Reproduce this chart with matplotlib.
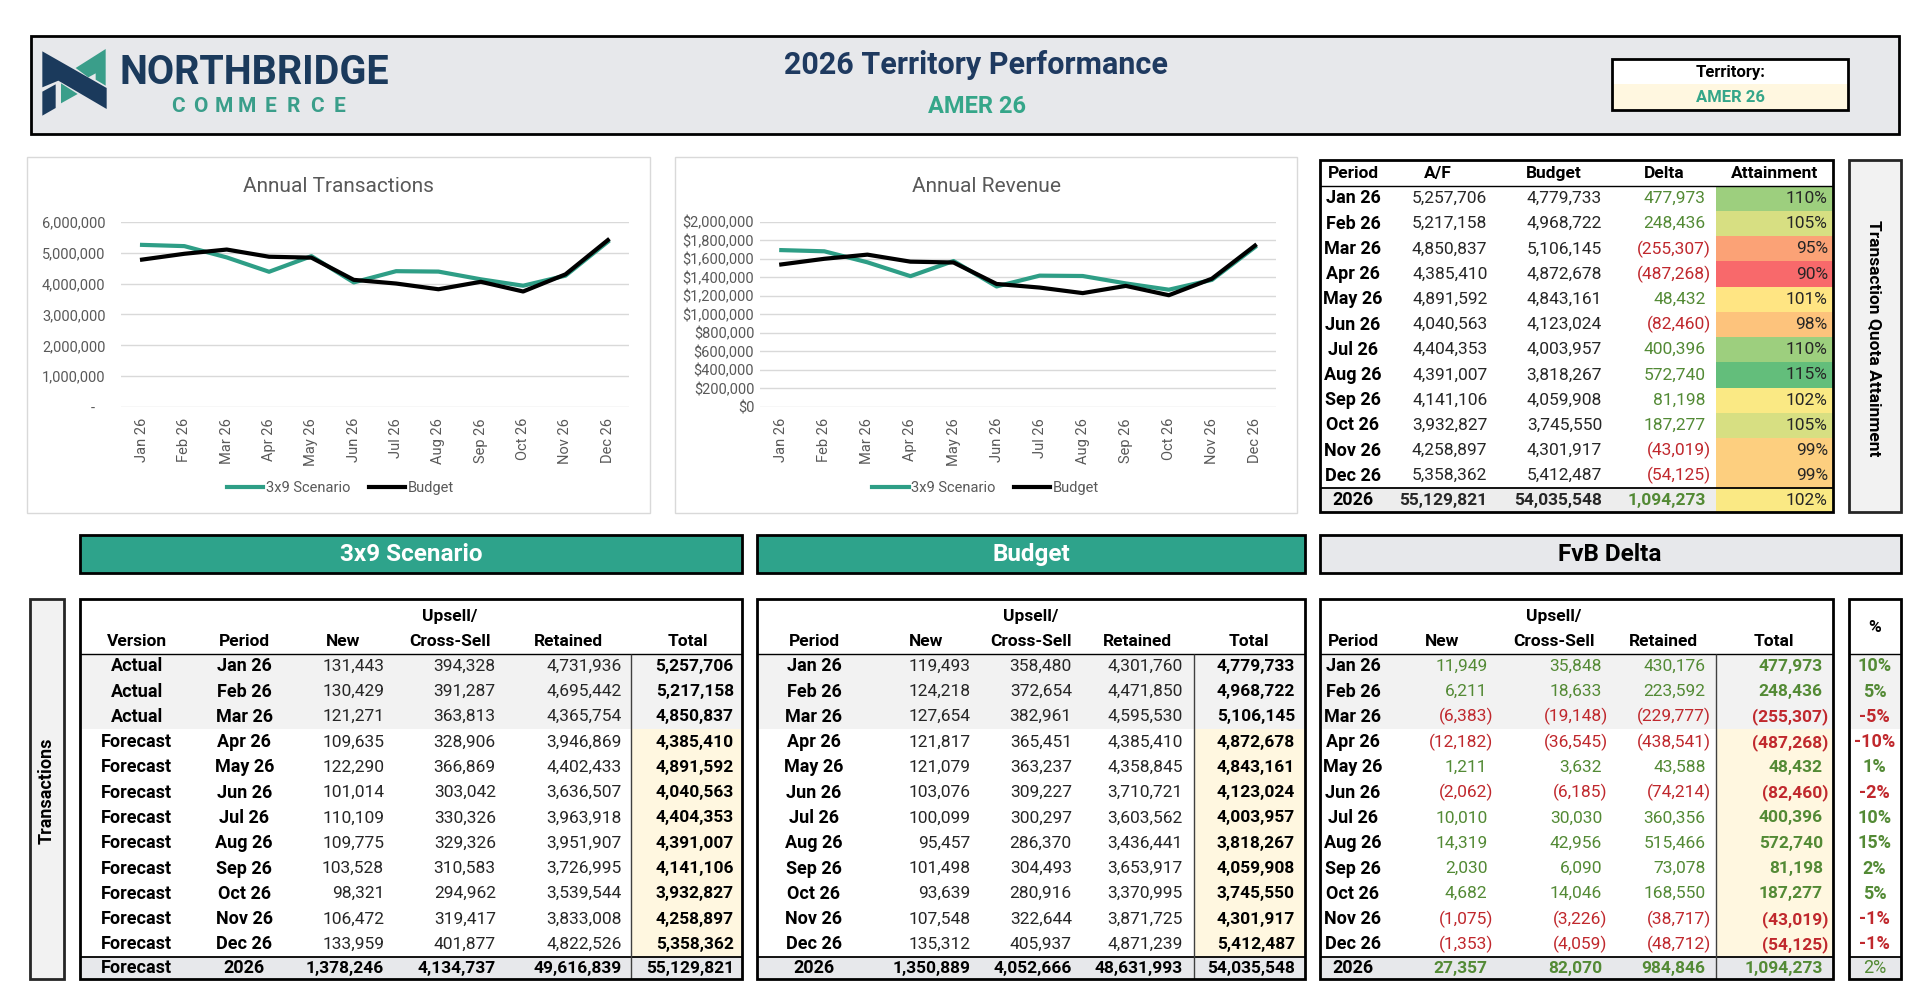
import matplotlib
matplotlib.use("Agg")
import matplotlib.pyplot as plt
import numpy as np
from matplotlib.patches import Rectangle, Polygon
from matplotlib.colors import LinearSegmentedColormap
from matplotlib import font_manager

# ---- data ----
months = ["Jan 26", "Feb 26", "Mar 26", "Apr 26", "May 26", "Jun 26",
          "Jul 26", "Aug 26", "Sep 26", "Oct 26", "Nov 26", "Dec 26"]
versions = ["Actual", "Actual", "Actual"] + ["Forecast"] * 9

scen_new = [131443, 130429, 121271, 109635, 122290, 101014, 110109, 109775, 103528, 98321, 106472, 133959]
scen_upsell = [394328, 391287, 363813, 328906, 366869, 303042, 330326, 329326, 310583, 294962, 319417, 401877]
scen_retained = [4731936, 4695442, 4365754, 3946869, 4402433, 3636507, 3963918, 3951907, 3726995, 3539544, 3833008, 4822526]
scen_total = [5257706, 5217158, 4850837, 4385410, 4891592, 4040563, 4404353, 4391007, 4141106, 3932827, 4258897, 5358362]
scen_year = [1378246, 4134737, 49616839, 55129821]

bud_new = [119493, 124218, 127654, 121817, 121079, 103076, 100099, 95457, 101498, 93639, 107548, 135312]
bud_upsell = [358480, 372654, 382961, 365451, 363237, 309227, 300297, 286370, 304493, 280916, 322644, 405937]
bud_retained = [4301760, 4471850, 4595530, 4385410, 4358845, 3710721, 3603562, 3436441, 3653917, 3370995, 3871725, 4871239]
bud_total = [4779733, 4968722, 5106145, 4872678, 4843161, 4123024, 4003957, 3818267, 4059908, 3745550, 4301917, 5412487]
bud_year = [1350889, 4052666, 48631993, 54035548]

fvb_new = [11949, 6211, -6383, -12182, 1211, -2062, 10010, 14319, 2030, 4682, -1075, -1353]
fvb_upsell = [35848, 18633, -19148, -36545, 3632, -6185, 30030, 42956, 6090, 14046, -3226, -4059]
fvb_retained = [430176, 223592, -229777, -438541, 43588, -74214, 360356, 515466, 73078, 168550, -38717, -48712]
fvb_total = [477973, 248436, -255307, -487268, 48432, -82460, 400396, 572740, 81198, 187277, -43019, -54125]
fvb_year = [27357, 82070, 984846, 1094273]
fvb_pct = [10, 5, -5, -10, 1, -2, 10, 15, 2, 5, -1, -1]
fvb_pct_year = 2

attainment = [110, 105, 95, 90, 101, 98, 110, 115, 102, 105, 99, 99]
attainment_year = 102

rev_scenario = [1696000, 1683000, 1564000, 1414000, 1578000, 1303000, 1420000, 1416000, 1336000, 1268000, 1374000, 1728000]
rev_budget = [1541000, 1602000, 1647000, 1571000, 1562000, 1330000, 1291000, 1231000, 1309000, 1208000, 1387000, 1745000]

# ---- style ----
available = {f.name for f in font_manager.fontManager.ttflist}
FONT = next(f for f in ["Roboto", "Liberation Sans", "DejaVu Sans"] if f in available)
plt.rcParams["font.family"] = FONT

NAVY = "#1F3A60"
TEAL = "#2EA38B"
TEAL_TXT = "#35A689"
LINE_TEAL = "#2E9E86"
GRAY = "#E7E8EB"
LIGHT = "#F2F2F2"
CREAM = "#FFF7E0"
GREEN = "#538A35"
RED = "#C0282D"
INK = "#262626"
CHART_TXT = "#595959"

W, H = 1560, 806  # layout units (figure is 1924 x 994 px)
fig = plt.figure(figsize=(19.24, 9.94), dpi=100)
ax0 = fig.add_axes([0, 0, 1, 1])
ax0.set_xlim(0, W)
ax0.set_ylim(H, 0)
ax0.axis("off")


def box(x0, y0, x1, y1, fc="none", ec="none", lw=0, z=1):
    ax0.add_patch(Rectangle((x0, y0), x1 - x0, y1 - y0, facecolor=fc,
                            edgecolor=ec, linewidth=lw, zorder=z))


def hline(x0, x1, y, lw=1, color="black"):
    ax0.plot([x0, x1], [y, y], color=color, lw=lw, zorder=3, solid_capstyle="butt")


def vline(x, y0, y1, lw=1, color="#404040"):
    ax0.plot([x, x], [y0, y1], color=color, lw=lw, zorder=3, solid_capstyle="butt")


def txt(x, y, s, ha="center", size=12.5, weight="normal", color=INK, **kw):
    ax0.text(x, y, s, ha=ha, va="center", fontsize=size, fontweight=weight,
             color=color, zorder=4, **kw)


def num(xr, y, v, signed=False, weight="normal", size=12.5, color=INK):
    if signed:
        color = GREEN if v >= 0 else RED
    if v < 0:
        txt(xr + 4.5, y, f"({-v:,})", ha="right", size=size, weight=weight, color=color)
    else:
        txt(xr, y, f"{v:,}", ha="right", size=size, weight=weight, color=color)


LBL = 13    # bold row labels
HDR = 12.5  # bold column headers

# ---- header band ----
box(25, 29, 1540, 109, fc=GRAY, ec="black", lw=2)

# logo mark (shape coords in a 240-unit square)
def logo_poly(pts, color):
    p = np.array(pts, dtype=float)
    xs = (35 + p[:, 0] / 3) / 1.2333
    ys = (44 + p[:, 1] / 3) / 1.2333
    ax0.add_patch(Polygon(np.column_stack([xs, ys]), closed=True, fc=color, ec="none", zorder=3))

logo_poly([(122, 72), (212, 15), (212, 125), (182, 107), (182, 88), (160, 100)], "#3A9E8A")
logo_poly([(78, 118), (128, 150), (78, 178)], "#3A9E8A")
logo_poly([(22, 22), (215, 132), (215, 195), (70, 110), (22, 130)], "#1B3A5C")
logo_poly([(22, 143), (62, 121), (62, 192), (22, 215)], "#1B3A5C")

txt(97, 59, "NORTHBRIDGE", ha="left", size=28.5, weight="bold", color="#1B3A5C")
for i, ch in enumerate("COMMERCE"):
    txt(144 + i * 18.8, 86, ch, size=15, weight="bold", color="#3A9E8A")

txt(791, 53, "2026 Territory Performance", size=22, weight="bold", color=NAVY)
txt(792, 86, "AMER 26", size=17, weight="bold", color=TEAL_TXT)

box(1307, 48, 1498, 68.5, fc="white")
box(1307, 68.5, 1498, 89, fc=CREAM)
box(1307, 48, 1498, 89, ec="black", lw=2, z=3)
txt(1403, 59, "Territory:", size=12, weight="bold", color="black")
txt(1403, 79, "AMER 26", size=12, weight="bold", color=TEAL_TXT)


# ---- line charts ----
def line_chart(frame, plot, title, scen, bud, ymax, step, tick_fmt, ypad, legend_x):
    box(*frame, fc="white", ec="#D9D9D9", lw=1)
    fx0, fy0, fx1, fy1 = frame
    txt((fx0 + fx1) / 2, 151.5, title, size=15, color=CHART_TXT)
    px0, py0, px1, py1 = plot
    ax = fig.add_axes([px0 / W, 1 - py1 / H, (px1 - px0) / W, (py1 - py0) / H])
    ax.set_facecolor("none")
    x = np.arange(len(months))
    l1, = ax.plot(x, scen, color=LINE_TEAL, lw=3, solid_joinstyle="round")
    l2, = ax.plot(x, bud, color="black", lw=3, solid_joinstyle="round")
    ax.set_xlim(-0.5, len(months) - 0.5)
    ax.set_ylim(0, ymax)
    ax.set_yticks(np.arange(0, ymax + 1, step))
    ax.yaxis.set_major_formatter(plt.FuncFormatter(tick_fmt))
    ax.set_xticks(x)
    ax.set_xticklabels(months, rotation=90)
    ax.grid(axis="y", color="#D9D9D9", lw=1)
    ax.set_axisbelow(True)
    for s in ax.spines.values():
        s.set_visible(False)
    ax.tick_params(axis="both", length=0, labelsize=10.5, labelcolor=CHART_TXT)
    ax.tick_params(axis="x", pad=8)
    ax.tick_params(axis="y", pad=ypad)
    ax.legend([l1, l2], ["3x9 Scenario", "Budget"], loc="center",
              bbox_to_anchor=(legend_x / W, 1 - 396 / H), bbox_transform=fig.transFigure,
              ncol=2, frameon=False, fontsize=10.5, handlelength=2.5, handletextpad=0.15,
              columnspacing=1.3, labelcolor=CHART_TXT)
    return ax


line_chart((22, 127, 527, 416), (98, 180, 510, 330), "Annual Transactions",
           scen_total, bud_total, 6000000, 1000000,
           lambda v, p: "-   " if v == 0 else f"{v:,.0f}", 11, 276)
line_chart((547, 127, 1052, 416), (616, 180, 1035, 330), "Annual Revenue",
           rev_scenario, rev_budget, 2000000, 200000,
           lambda v, p: f"${v:,.0f}", 4, 799)

# ---- attainment table (top right) ----
cmap = LinearSegmentedColormap.from_list("rag", [(0, "#F8696B"), (0.46, "#FFEB84"), (1, "#63BE7B")])
att_lo, att_hi = 90, 115

TX0, TX1 = 1070, 1486
top_y0, top_hdr, top_tot, top_y1 = 130, 150.7, 396, 415
rh = (top_tot - top_hdr) / 12
box(TX0, top_y0, TX1, top_y1, fc="white")
box(TX0, top_tot, 1391, top_y1, fc="#EDEDED")
for i, a in enumerate(attainment + [attainment_year]):
    y0 = top_hdr + i * rh if i < 12 else top_tot
    y1 = y0 + rh if i < 12 else top_y1
    box(1391, y0, TX1, y1, fc=cmap((a - att_lo) / (att_hi - att_lo)))
hline(TX0, TX1, top_hdr, lw=1)
hline(TX0, TX1, top_tot, lw=1.3)
box(TX0, top_y0, TX1, top_y1, ec="black", lw=2, z=3)

hy = (top_y0 + top_hdr) / 2 + 0.5
for label, xc in [("Period", 1097), ("A/F", 1166), ("Budget", 1260), ("Delta", 1349), ("Attainment", 1439)]:
    txt(xc, hy, label, size=HDR, weight="bold", color="black")
for i in range(12):
    y = top_hdr + (i + 0.5) * rh
    txt(1097, y, months[i], size=LBL, weight="bold", color="black")
    num(1206, y, scen_total[i])
    num(1299, y, bud_total[i])
    num(1383, y, fvb_total[i], signed=True)
    txt(1482, y, f"{attainment[i]}%", ha="right")
ty = (top_tot + top_y1) / 2
txt(1097, ty, "2026", size=LBL, weight="bold", color="black")
num(1206, ty, scen_year[3], weight="bold")
num(1299, ty, bud_year[3], weight="bold")
num(1383, ty, fvb_year[3], signed=True, weight="bold")
txt(1482, ty, f"{attainment_year}%", ha="right")

box(1499, 130, 1541, 415, fc=LIGHT, ec="#262626", lw=2)
txt(1520, 274, "Transaction Quota Attainment", size=12.5, weight="bold", color="black", rotation=-90)

# ---- section bars ----
box(65, 434, 602, 465, fc=TEAL, ec="black", lw=2)
txt(333.5, 450, "3x9 Scenario", size=17.5, weight="bold", color="white")
box(614, 434, 1058, 465, fc=TEAL, ec="black", lw=2)
txt(836, 450, "Budget", size=17.5, weight="bold", color="white")
box(1070, 434, 1541, 465, fc=GRAY, ec="black", lw=2)
txt(1305, 450, "FvB Delta", size=17.5, weight="bold", color="black")

box(24, 486, 52, 794, fc=LIGHT, ec="#262626", lw=2)
txt(38, 641, "Transactions", size=13, weight="bold", color="black", rotation=90)

# ---- bottom tables ----
B_Y0, B_HDR, B_TOT, B_Y1 = 486, 530, 776, 794
brh = (B_TOT - B_HDR) / 12


def table_frame(x0, x1, xsplit):
    box(x0, B_Y0, x1, B_Y1, fc="white")
    box(x0, B_HDR, x1, B_HDR + 3 * brh, fc=LIGHT)
    box(xsplit, B_HDR + 3 * brh, x1, B_TOT, fc=CREAM)
    box(x0, B_TOT, x1, B_Y1, fc=GRAY)
    hline(x0, x1, B_HDR, lw=1)
    hline(x0, x1, B_TOT, lw=1.3)
    if xsplit < x1:
        vline(xsplit, B_HDR, B_Y1)
    box(x0, B_Y0, x1, B_Y1, ec="black", lw=2, z=3)


def headers(items):
    for label, xc in items:
        if label == "Upsell/":
            txt(xc, 500, "Upsell/", size=HDR, weight="bold", color="black")
            txt(xc, 520, "Cross-Sell", size=HDR, weight="bold", color="black")
        else:
            txt(xc, 520, label, size=HDR, weight="bold", color="black")


row_y = [B_HDR + (i + 0.5) * brh for i in range(12)]
tot_y = (B_TOT + B_Y1) / 2

# 3x9 scenario
table_frame(65, 602, 512)
headers([("Version", 111), ("Period", 198), ("New", 278), ("Upsell/", 364.5),
         ("Retained", 461), ("Total", 557.6)])
for i, y in enumerate(row_y):
    txt(111, y, versions[i], size=LBL, weight="bold", color="black")
    txt(198, y, months[i], size=LBL, weight="bold", color="black")
    num(311.5, y, scen_new[i])
    num(402, y, scen_upsell[i])
    num(504, y, scen_retained[i])
    num(595, y, scen_total[i], weight="bold", color="black")
txt(111, tot_y, "Forecast", size=LBL, weight="bold", color="black")
txt(198, tot_y, "2026", size=LBL, weight="bold", color="black")
for xr, v in zip([311.5, 402, 504, 595], scen_year):
    num(xr, tot_y, v, weight="bold", color="black")

# budget
table_frame(614, 1058, 968)
headers([("Period", 660), ("New", 751), ("Upsell/", 836), ("Retained", 922.5), ("Total", 1013)])
for i, y in enumerate(row_y):
    txt(660, y, months[i], size=LBL, weight="bold", color="black")
    num(787, y, bud_new[i])
    num(869, y, bud_upsell[i])
    num(959, y, bud_retained[i])
    num(1050, y, bud_total[i], weight="bold", color="black")
txt(660, tot_y, "2026", size=LBL, weight="bold", color="black")
for xr, v in zip([787, 869, 959, 1050], bud_year):
    num(xr, tot_y, v, weight="bold", color="black")

# FvB delta
table_frame(1070, 1486, 1391)
headers([("Period", 1097), ("New", 1169), ("Upsell/", 1260), ("Retained", 1349), ("Total", 1438)])
for i, y in enumerate(row_y):
    txt(1097, y, months[i], size=LBL, weight="bold", color="black")
    num(1206, y, fvb_new[i], signed=True)
    num(1299, y, fvb_upsell[i], signed=True)
    num(1383, y, fvb_retained[i], signed=True)
    num(1478, y, fvb_total[i], signed=True, weight="bold")
txt(1097, tot_y, "2026", size=LBL, weight="bold", color="black")
for xr, v in zip([1206, 1299, 1383, 1478], fvb_year):
    num(xr, tot_y, v, signed=True, weight="bold")

table_frame(1499, 1541, 1541)
txt(1520, 508.5, "%", size=HDR, weight="bold", color="black")
for i, y in enumerate(row_y):
    txt(1520, y, f"{fvb_pct[i]}%", size=LBL, weight="bold",
        color=GREEN if fvb_pct[i] >= 0 else RED)
txt(1520, tot_y, f"{fvb_pct_year}%", size=LBL, color=GREEN)

fig.savefig("out.png", dpi=100)
